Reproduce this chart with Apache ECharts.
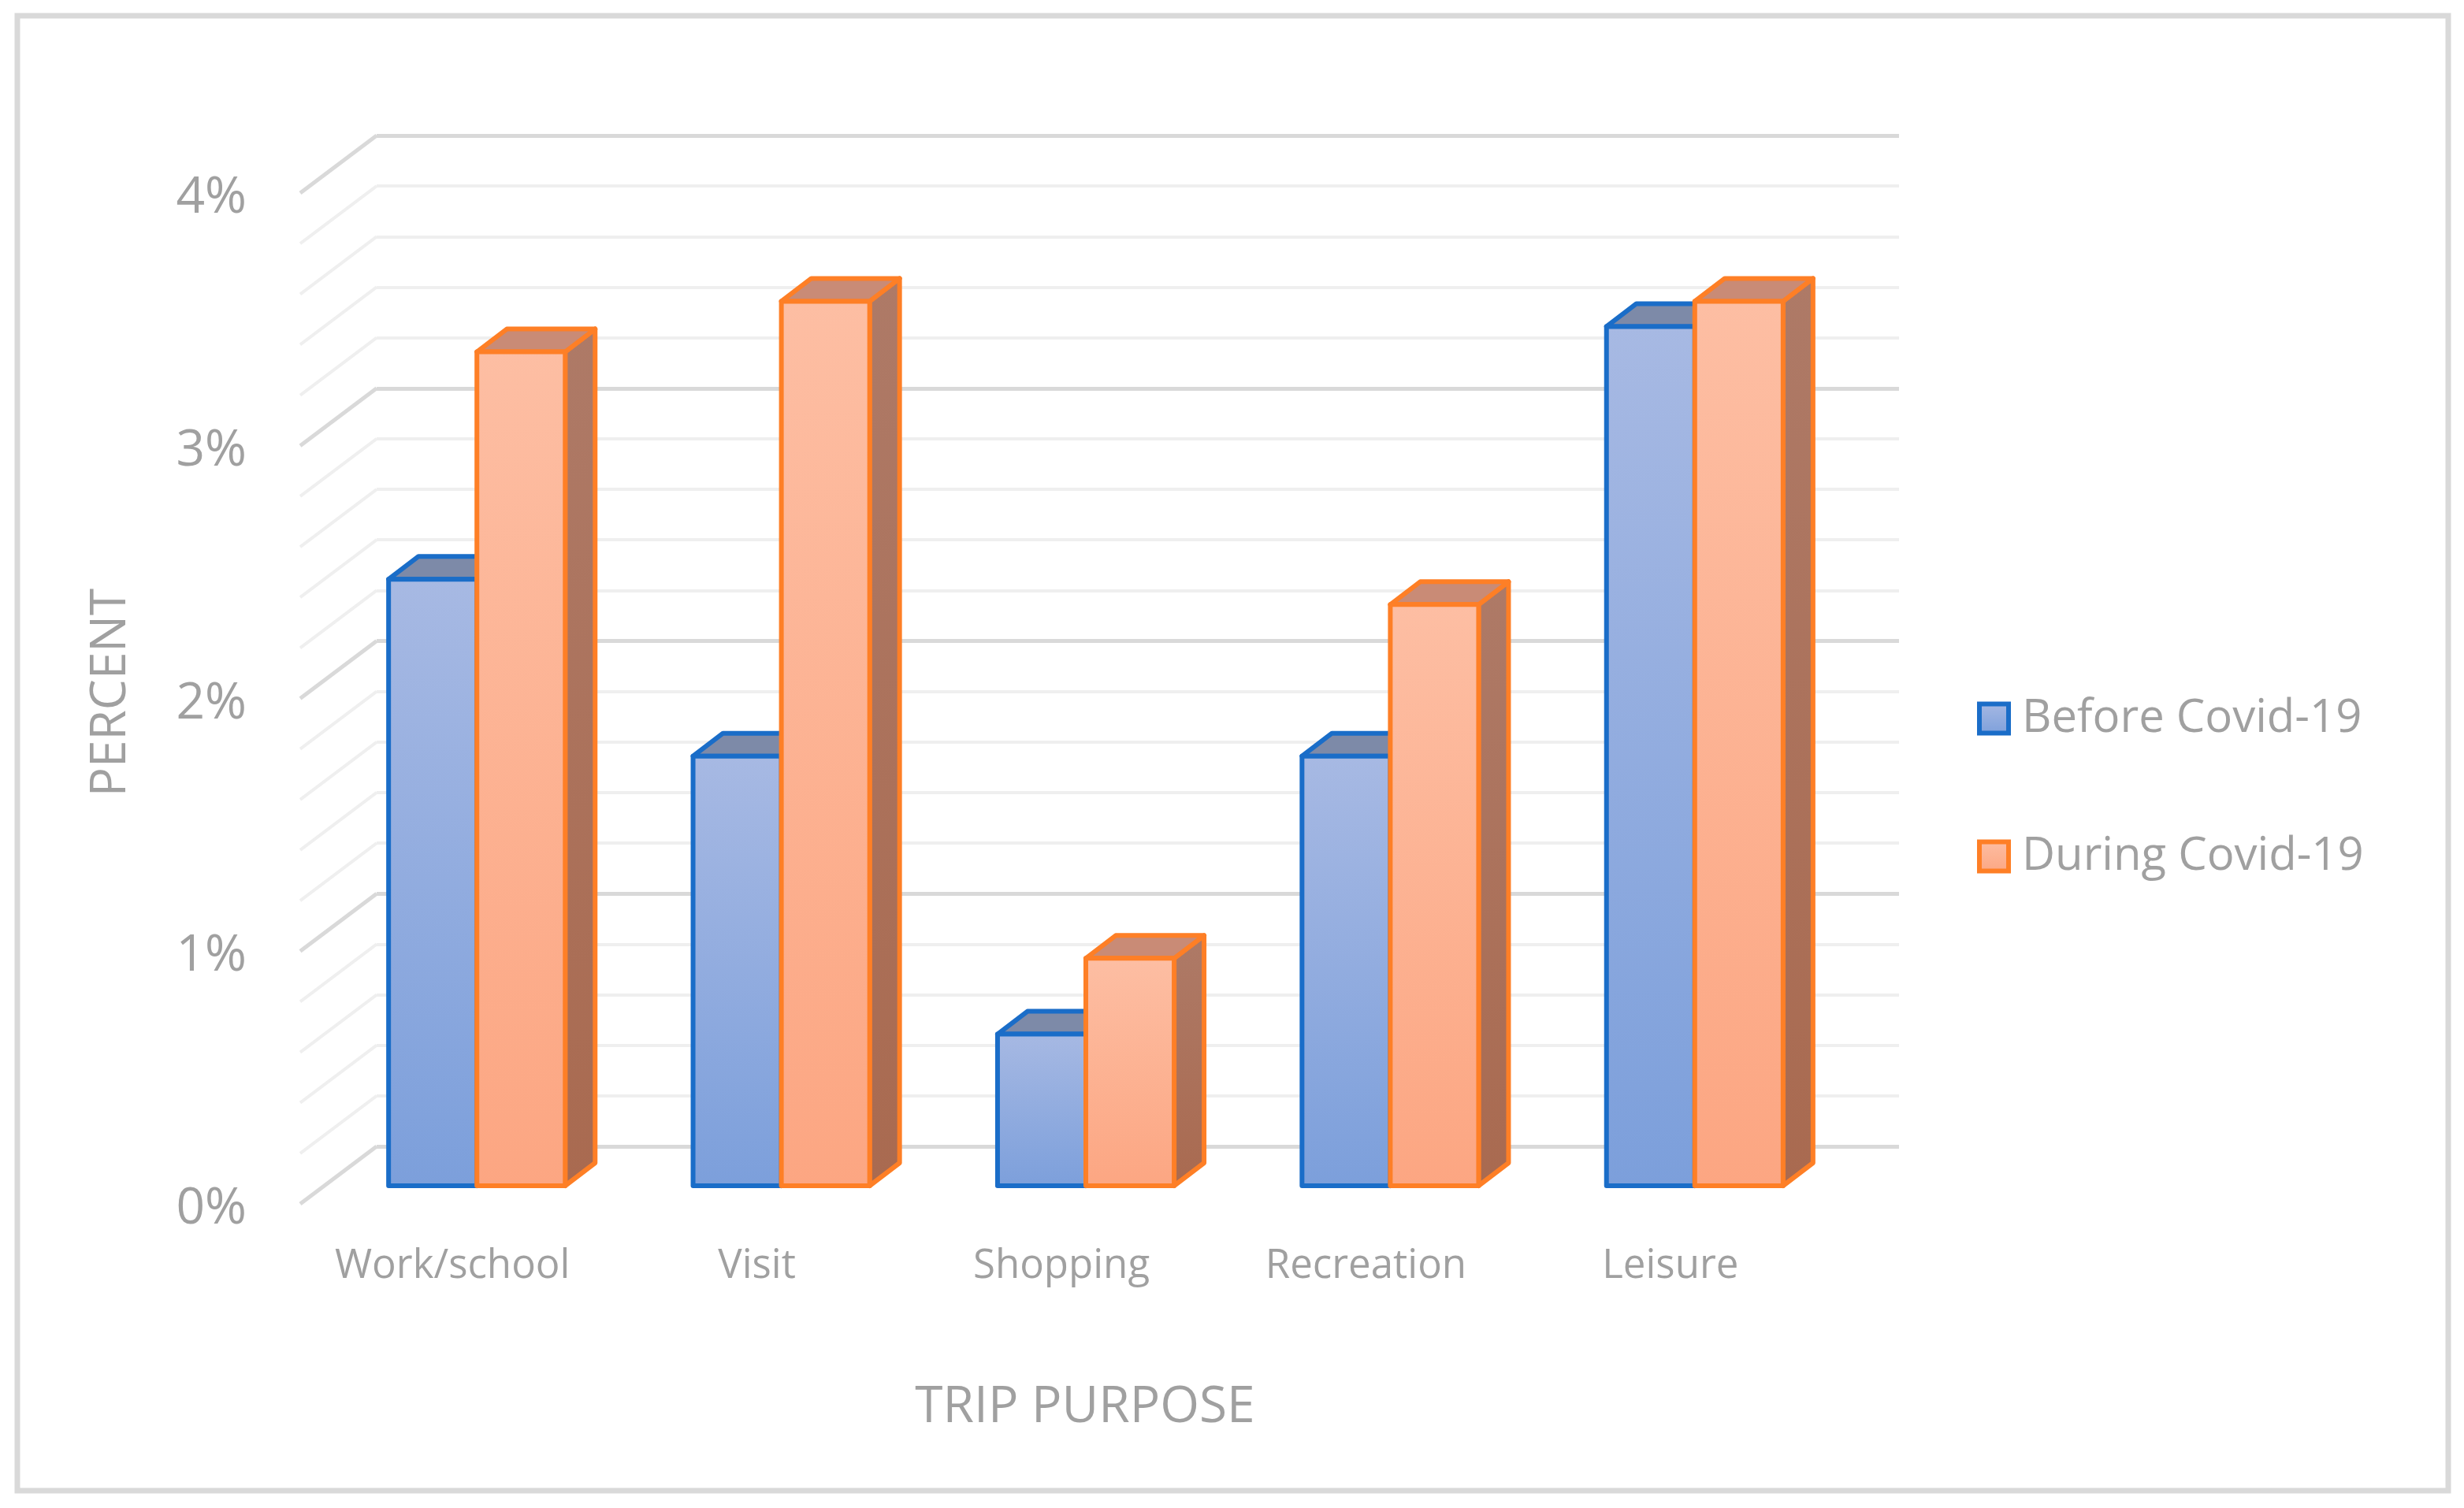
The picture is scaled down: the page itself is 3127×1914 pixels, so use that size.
<!DOCTYPE html>
<html lang="en">
<head>
	<meta charset="utf-8">
	<title>Trip purpose</title>
	<script src="https://cdn.jsdelivr.net/npm/echarts@6/dist/echarts.min.js"></script>
	<style>
		html, body { margin: 0; padding: 0; background: #fff; }
		#chart { width: 3127px; height: 1914px; }
	</style>
</head>
<body>
<div id="chart"></div>
<script>
var categories = ['Work/school', 'Visit', 'Shopping', 'Recreation', 'Leisure'];
var beforeCovid = [2.4, 1.7, 0.6, 1.7, 3.4];
var duringCovid = [3.3, 3.5, 0.9, 2.3, 3.5];
var seriesNames = ['Before Covid-19', 'During Covid-19'];

var textColor = '#a0a0a0';
var font = 'Open Sans';
// oblique depth of the whole floor, and of a single bar
var wallDx = 97, wallDy = 73;
var barDx = 38, barDy = 29;

var G = echarts.graphic;
var looks = [
	{
		border: '#1a6dc8',
		front: new G.LinearGradient(0, 0, 0, 1, [{offset: 0, color: '#a7b9e3'}, {offset: 1, color: '#7c9fdb'}]),
		top: '#7d8aa8',
		side: '#5f7bb0'
	},
	{
		border: '#fe7f26',
		front: new G.LinearGradient(0, 0, 0, 1, [{offset: 0, color: '#fdbea3'}, {offset: 1, color: '#fca682'}]),
		top: '#c98b76',
		side: new G.LinearGradient(0, 0, 0, 1, [{offset: 0, color: '#ae7a67'}, {offset: 1, color: '#a96a50'}])
	}
];

function bar3d(which) {
	return function (params, api) {
		var top = api.coord([api.value(0), api.value(1)]);
		var base = api.coord([api.value(0), 0]);
		var w = api.size([1, 0])[0] * 0.29;
		var x = which === 0 ? top[0] - w : top[0];
		var y = top[1], b = base[1];
		var lk = looks[which];
		var st = {stroke: lk.border, lineWidth: 6, lineJoin: 'round'};
		return {
			type: 'group',
			children: [
				{type: 'polygon', shape: {points: [[x + w, y], [x + w + barDx, y - barDy], [x + w + barDx, b - barDy], [x + w, b]]},
					style: Object.assign({fill: lk.side}, st)},
				{type: 'polygon', shape: {points: [[x, y], [x + w, y], [x + w + barDx, y - barDy], [x + barDx, y - barDy]]},
					style: Object.assign({fill: lk.top}, st)},
				{type: 'rect', shape: {x: x, y: y, width: w, height: b - y},
					style: Object.assign({fill: lk.front}, st)}
			]
		};
	};
}

// left side wall: one diagonal per gridline of the back wall
function sideWall(params, api) {
	var x0 = params.coordSys.x;
	var kids = [];
	for (var k = 0; k <= 20; k++) {
		var v = k * 0.2;
		var y = api.coord([0, v])[1];
		var major = k % 5 === 0;
		kids.push({
			type: 'line',
			shape: {x1: x0, y1: y, x2: x0 - wallDx, y2: y + wallDy},
			style: {stroke: major ? '#d9d9d9' : '#efefef', lineWidth: major ? 5 : 4}
		});
	}
	return {type: 'group', children: kids};
}

var chart = echarts.init(document.getElementById('chart'));
chart.setOption({
	animation: false,
	textStyle: {fontFamily: font},
	grid: [
		{left: 412, top: 222, width: 1932, height: 1283},
		{left: 478, top: 172, width: 1932, height: 1283},
		{left: 381, top: 252, width: 1932, height: 1283}
	],
	xAxis: [
		{gridIndex: 0, type: 'category', data: categories, show: false},
		{gridIndex: 1, type: 'category', data: categories, show: false},
		{gridIndex: 2, type: 'category', data: categories,
			axisLine: {show: false}, axisTick: {show: false},
			axisLabel: {interval: 0, color: textColor, fontSize: 51, margin: 47, fontFamily: font}}
	],
	yAxis: [
		{gridIndex: 0, type: 'value', min: 0, max: 4, interval: 1, show: false},
		{gridIndex: 1, type: 'value', min: 0, max: 4, interval: 1,
			axisLabel: {show: false}, axisLine: {show: false}, axisTick: {show: false},
			splitLine: {lineStyle: {color: '#d9d9d9', width: 5}},
			minorTick: {show: false, splitNumber: 5},
			minorSplitLine: {show: true, lineStyle: {color: '#efefef', width: 4}}},
		{gridIndex: 2, type: 'value', min: 0, max: 4, interval: 1,
			axisLine: {show: false}, axisTick: {show: false}, splitLine: {show: false},
			axisLabel: {color: textColor, fontSize: 64, margin: 68, fontFamily: font, formatter: '{value}%'}}
	],
	legend: {
		orient: 'vertical',
		left: 2504,
		top: 872,
		itemWidth: 37,
		itemHeight: 37,
		itemGap: 105,
		textStyle: {color: textColor, fontSize: 58, lineHeight: 70, fontFamily: font, padding: [0, 0, 0, 12]},
		data: [
			{name: seriesNames[0], icon: 'rect', itemStyle: {color: looks[0].front, borderColor: looks[0].border, borderWidth: 6}},
			{name: seriesNames[1], icon: 'rect', itemStyle: {color: looks[1].front, borderColor: looks[1].border, borderWidth: 6}}
		]
	},
	graphic: [
		{type: 'rect', shape: {x: 22, y: 20, width: 3085, height: 1872},
			style: {fill: null, stroke: '#d9d9d9', lineWidth: 7}, z: -10},
		{type: 'text', x: 141, y: 879, rotation: Math.PI / 2,
			style: {text: 'PERCENT', fill: textColor, font: '62px "Open Sans"', align: 'center', verticalAlign: 'middle'}},
		{type: 'text', x: 1377, y: 1787,
			style: {text: 'TRIP PURPOSE', fill: textColor, font: '64px "Open Sans"', align: 'center', verticalAlign: 'middle'}}
	],
	series: [
		{type: 'custom', name: 'wall', xAxisIndex: 1, yAxisIndex: 1, renderItem: sideWall, data: [[0, 0]], silent: true},
		{type: 'custom', name: seriesNames[0], xAxisIndex: 0, yAxisIndex: 0, renderItem: bar3d(0),
			itemStyle: {color: '#8fa9de', borderColor: looks[0].border},
			data: beforeCovid.map(function (v, i) { return [i, v]; })},
		{type: 'custom', name: seriesNames[1], xAxisIndex: 0, yAxisIndex: 0, renderItem: bar3d(1),
			itemStyle: {color: '#fdb292', borderColor: looks[1].border},
			data: duringCovid.map(function (v, i) { return [i, v]; })}
	]
});
</script>
</body>
</html>
